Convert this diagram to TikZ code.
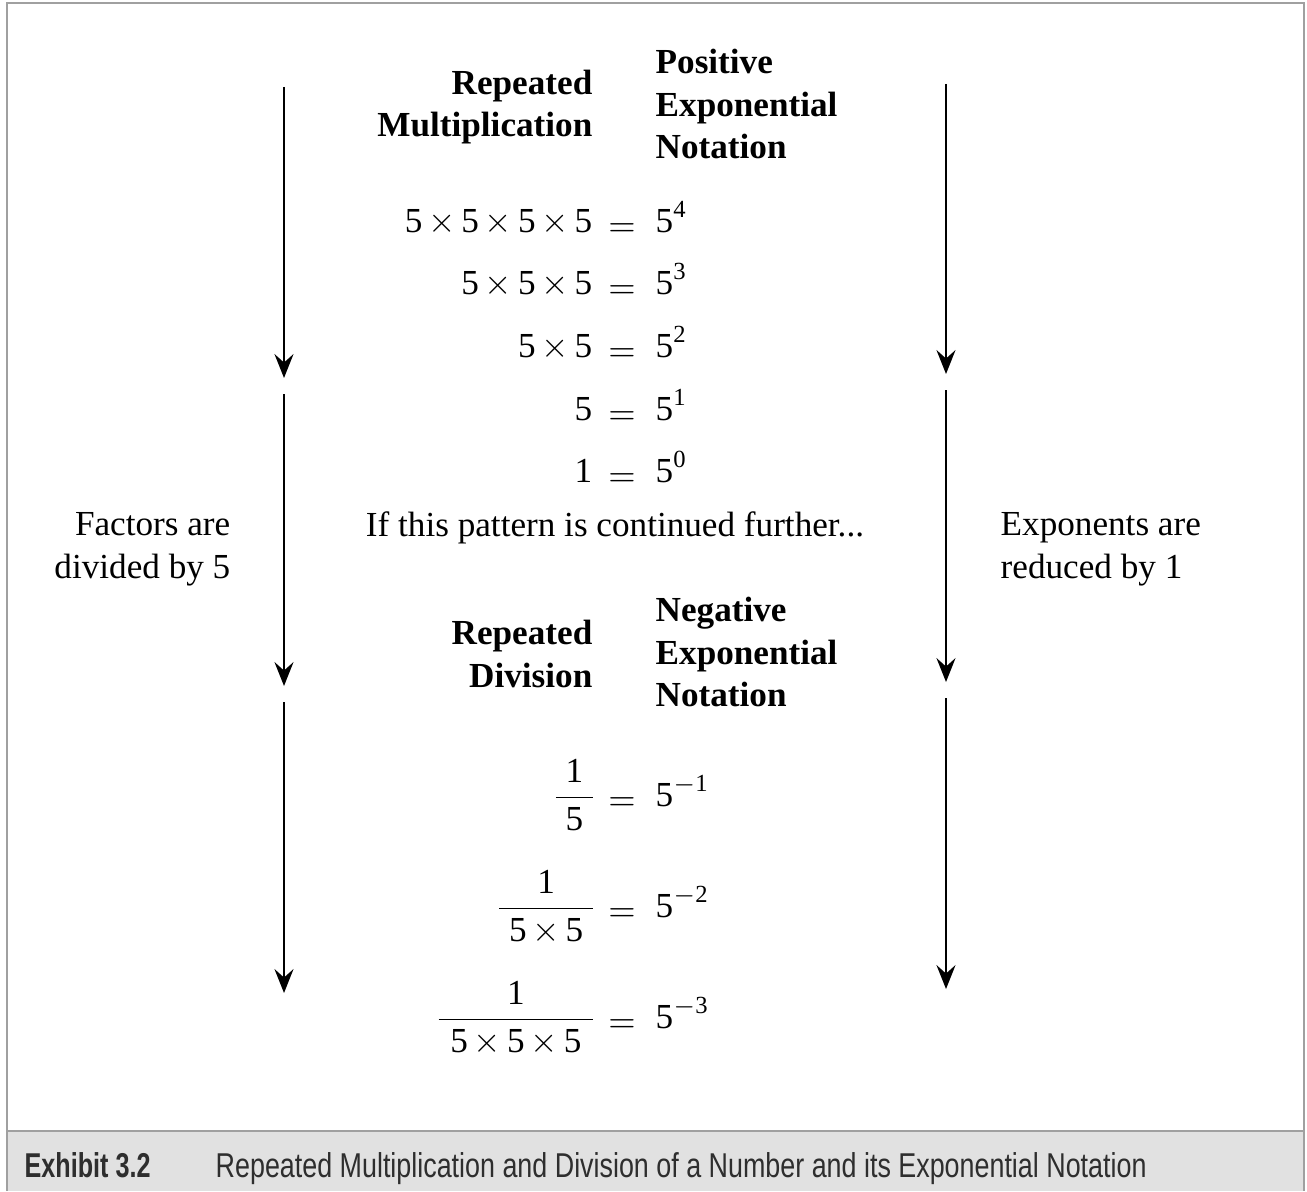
\documentclass[tikz,border=0pt]{standalone}
\usepackage{amsmath}
\usepackage{fontspec}
\setmainfont{Liberation Serif}
\newfontfamily\capfont[FakeStretch=0.78]{Liberation Sans}
\newfontfamily\capbold[FakeStretch=0.73]{Liberation Sans}
\usepackage{xcolor}
\usetikzlibrary{arrows.meta,positioning}
\definecolor{framegray}{HTML}{A0A0A0}
\definecolor{bargray}{HTML}{E1E1E1}
\definecolor{capink}{HTML}{2E2E2E}
% digits in the text face, also inside math
\newcommand{\dg}[1]{\text{#1}}
\tikzset{
  ex/.style={x=0.01cm, y=-0.01cm,
             every node/.style={inner sep=0pt, font=\fontsize{10}{12.2}\selectfont}},
  head/.style={font=\bfseries\fontsize{10}{12.2}\selectfont},
  lhs/.style={anchor=base east, execute at begin node={\medmuskip=3mu}},
  rhs/.style={anchor=base west},
  eqsign/.style={anchor=base, yshift=-1.4pt},
  flow/.style={-{Stealth[length=6.8pt, width=5.4pt, inset=2.4pt]}, line width=0.6pt},
  frame/.style={draw=framegray, line width=0.6pt},
  capt/.style={anchor=base west, text=capink, font=\capfont\fontsize{9.8}{11}\selectfont}
}

\begin{document}
\begin{tikzpicture}[ex]
\useasboundingbox (0,0) rectangle (1307,1191);
% box and caption strip
\fill[bargray] (7,1131) rectangle (1304,1191);
\draw[frame] (7,1191) -- (7,3) -- (1304,3) -- (1304,1191);
\draw[frame] (7,1131) -- (1304,1131);
\node[capt, font=\capbold\bfseries\fontsize{9.8}{11}\selectfont] (exnum) at (24,1177) {Exhibit 3.2};
\node[capt] (extitle) at (215,1177) {Repeated Multiplication and Division of a Number and its Exponential Notation};

% column heads
\node[head, align=right, anchor=east] (mulhead) at (593,107) {Repeated\\Multiplication};
\node[head, align=left, anchor=west] (poshead) at (655,104) {Positive\\Exponential\\Notation};
\node[head, align=right, anchor=east] (divhead) at (593,654) {Repeated\\Division};
\node[head, align=left, anchor=west] (neghead) at (655,652) {Negative\\Exponential\\Notation};

% positive powers
\foreach \k/\b/\prod in {4/232/\dg{5}\times\dg{5}\times\dg{5}\times\dg{5},
                        3/294/\dg{5}\times\dg{5}\times\dg{5},
                        2/357/\dg{5}\times\dg{5}, 1/420/\dg{5}, 0/482/\dg{1}} {
  \node[lhs] (m\k) at (593,\b) {$\prod$};
  \node[eqsign] (q\k) at (622,\b) {$=$};
  \node[rhs] (p\k) at (655,\b) {$\dg{5}^{\dg{\k}}$};
}

\node[anchor=base] (cont) at (615,536) {If this pattern is continued further...};

% negative powers
\foreach \k/\b/\den in {1/806/{\;\dg{5}\;}, 2/917/{\;\dg{5}\times\dg{5}\;},
                        3/1028/{\mkern6mu\dg{5}\times\dg{5}\times\dg{5}\mkern6mu}} {
  \node[lhs] (d\k) at (598,\b) {$\dfrac{\dg{1}}{\den}$};
  \node[eqsign] (r\k) at (622,\b) {$=$};
  \node[rhs] (n\k) at (655,\b) {$\dg{5}^{-\dg{\k}}$};
}

% side notes
\node[align=right, anchor=east] (facnote) at (231,549) {Factors are\\divided by 5};
\node[align=left, anchor=west] (expnote) at (1000,549) {Exponents are\\reduced by 1};

% down arrows
\foreach \i/\s/\e in {1/87/378, 2/394/686, 3/702/993} {
  \coordinate (ls\i) at (284,\s); \coordinate (le\i) at (284,\e);
  \draw[flow] (ls\i) -- (le\i);
}
\foreach \i/\s/\e in {1/84/374, 2/390/682, 3/698/989} {
  \coordinate (rs\i) at (946,\s); \coordinate (re\i) at (946,\e);
  \draw[flow] (rs\i) -- (re\i);
}
\end{tikzpicture}
\end{document}
